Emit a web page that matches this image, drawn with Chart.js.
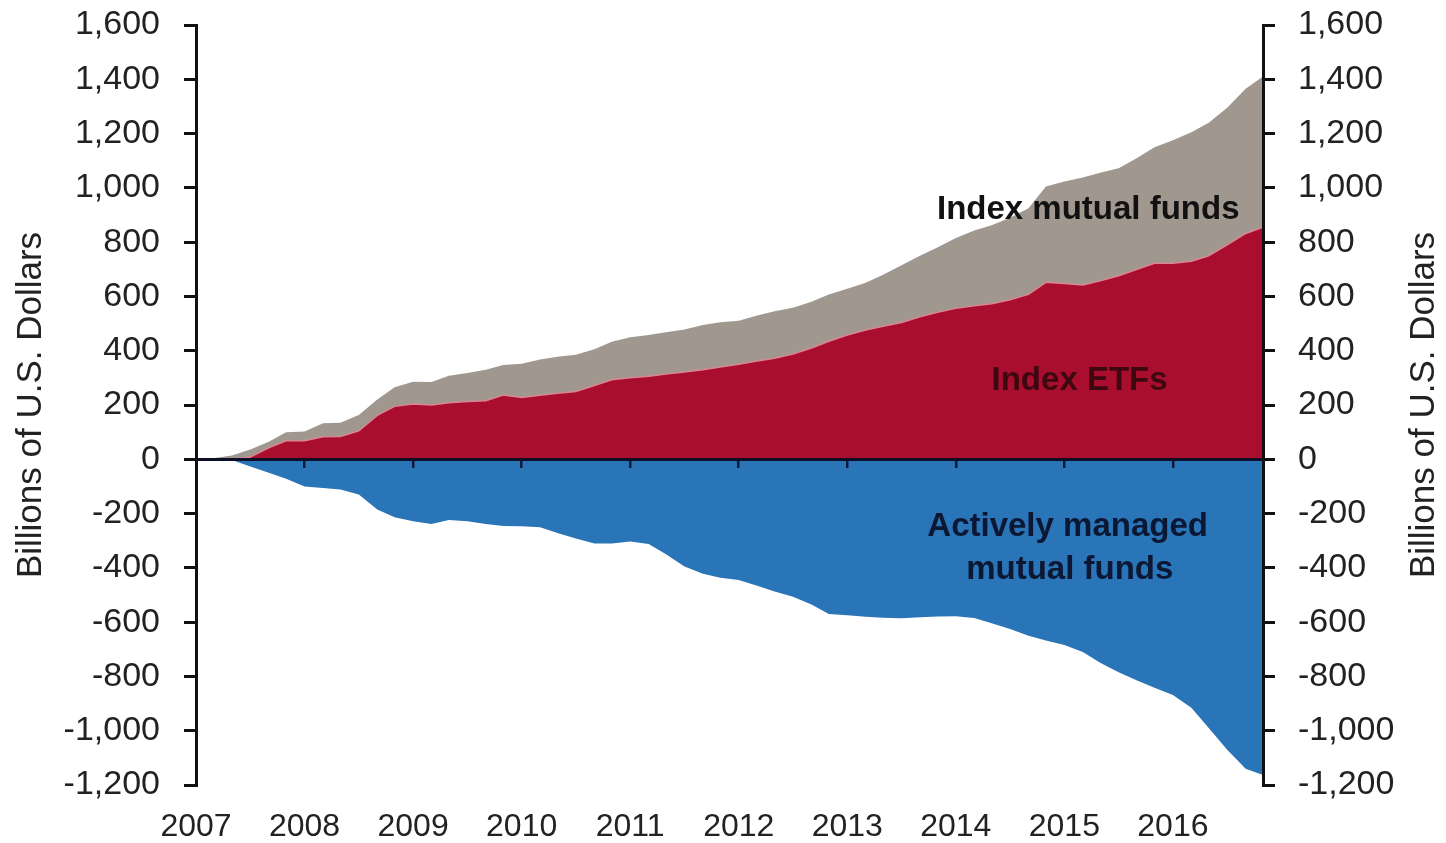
<!DOCTYPE html>
<html>
<head>
<meta charset="utf-8">
<title>Cumulative flows</title>
<script src="https://cdn.jsdelivr.net/npm/chart.js@4.4.1/dist/chart.umd.min.js"></script>
<style>
  html, body { margin: 0; padding: 0; background: #fff; }
  #wrap { width: 1446px; height: 843px; }
</style>
</head>
<body>
<div id="wrap"><canvas id="flows-chart"></canvas></div>
<script>
// Cumulative flows, billions of U.S. dollars (every 2 months)
const dates = [
  2007, 2007.17, 2007.33, 2007.5, 2007.67, 2007.83,
  2008, 2008.17, 2008.33, 2008.5, 2008.67, 2008.83,
  2009, 2009.17, 2009.33, 2009.5, 2009.67, 2009.83,
  2010, 2010.17, 2010.33, 2010.5, 2010.67, 2010.83,
  2011, 2011.17, 2011.33, 2011.5, 2011.67, 2011.83,
  2012, 2012.17, 2012.33, 2012.5, 2012.67, 2012.83,
  2013, 2013.17, 2013.33, 2013.5, 2013.67, 2013.83,
  2014, 2014.17, 2014.33, 2014.5, 2014.67, 2014.83,
  2015, 2015.17, 2015.33, 2015.5, 2015.67, 2015.83,
  2016, 2016.17, 2016.33, 2016.5, 2016.67, 2016.83
];

// red area: index ETFs
const indexEtfs = [
  0, 0, 0, 8, 42, 68,
  68, 83, 84, 105, 162, 195,
  204, 200, 208, 213, 216, 237,
  228, 236, 243, 250, 272, 293,
  300, 306, 314, 322, 330, 340,
  350, 362, 372, 388, 410, 435,
  458, 476, 490, 504, 525, 542,
  556, 566, 573, 588, 608, 652,
  648, 642, 658, 676, 700, 722,
  722, 730, 750, 790, 832, 855
];

// top edge of the grey area: index ETFs + index mutual funds
const etfsPlusIndexMutualFunds = [
  0, 5, 14, 36, 65, 100,
  102, 133, 135, 163, 220, 265,
  286, 285, 308, 318, 330, 347,
  352, 368, 378, 385, 405, 433,
  450, 458, 468, 478, 495, 505,
  510, 530, 545, 558, 580, 607,
  628, 650, 680, 715, 750, 780,
  815, 843, 862, 890, 925, 1005,
  1023, 1038, 1056, 1072, 1110, 1150,
  1175, 1205, 1240, 1295, 1365, 1410
];

// blue area: actively managed mutual funds
const activeMutualFunds = [
  0, 0, -3, -27, -50, -72,
  -100, -106, -111, -130, -185, -214,
  -228, -238, -224, -228, -238, -246,
  -247, -250, -272, -292, -310, -310,
  -303, -312, -350, -395, -422, -436,
  -445, -466, -487, -506, -535, -570,
  -575, -580, -584, -586, -582, -579,
  -578, -585, -604, -625, -650, -668,
  -684, -710, -750, -785, -815, -842,
  -868, -915, -990, -1070, -1140, -1163
];

const years = [2007, 2008, 2009, 2010, 2011, 2012, 2013, 2014, 2015, 2016];
const yearLabels = ['2007', '2008', '2009', '2010', '2011', '2012', '2013', '2014', '2015', '2016'];
const axisTitle = 'Billions of U.S. Dollars';

const FONT = '"Liberation Sans", Arial, Helvetica, sans-serif';
const xMin = 2007;
const xMax = 2016.83;

function toPoints(values) {
    return values.map((v, i) => ({ x: dates[i], y: v }));
}

function yearTicks(scale) {
    scale.ticks = years.map(v => ({ value: v }));
}

// Area names and the right-hand title (drawn so it reads bottom to top like the left one)
const areaLabels = {
    id: 'areaLabels',
    afterDraw(chart) {
        const { ctx, chartArea } = chart;
        const x = chart.scales.x;
        const y = chart.scales.y;
        ctx.save();
        ctx.textAlign = 'center';
        ctx.textBaseline = 'middle';
        ctx.font = 'bold 33px ' + FONT;

        ctx.fillStyle = '#111111';
        ctx.fillText('Index mutual funds', x.getPixelForValue(2015.22), y.getPixelForValue(918));

        ctx.fillStyle = '#3d0810';
        ctx.fillText('Index ETFs', x.getPixelForValue(2015.14), y.getPixelForValue(288));

        ctx.fillStyle = '#0b1733';
        ctx.fillText('Actively managed', x.getPixelForValue(2015.03), y.getPixelForValue(-250));
        ctx.fillText('mutual funds', x.getPixelForValue(2015.05), y.getPixelForValue(-408));

        const r = chart.scales.y2;
        ctx.font = '35px ' + FONT;
        ctx.fillStyle = '#222222';
        ctx.translate(r.right - 22, (chartArea.top + chartArea.bottom) / 2);
        ctx.rotate(-Math.PI / 2);
        ctx.fillText(axisTitle, 0, 0);
        ctx.restore();
    }
};

const yAxisCommon = {
    min: -1200,
    max: 1600,
    border: { display: true, color: '#111111', width: 3, z: 1 },
    grid: { drawOnChartArea: false, drawTicks: true, tickLength: 12, color: '#111111', lineWidth: 3, z: 1 },
    ticks: {
        stepSize: 200,
        autoSkip: false,
        color: '#222222',
        font: { family: FONT, size: 34 },
        callback: (v) => v.toLocaleString('en-US')
    }
};

// fixed axis widths so the plot area lines up with the picture
function fixWidth(w) {
    return (s) => {
        s.width = w;
        s.paddingTop = 0;
        s.paddingBottom = 0;
    };
}

const ctx = document.getElementById('flows-chart').getContext('2d');
const chart = new Chart(ctx, {
    type: 'line',
    data: {
        datasets: [
            {
                label: 'Index ETFs',
                data: toPoints(indexEtfs),
                backgroundColor: '#a90e2f',
                borderColor: '#d98793',
                borderWidth: 1.5,
                fill: 'origin'
            },
            {
                label: 'Index mutual funds',
                data: toPoints(etfsPlusIndexMutualFunds),
                backgroundColor: '#a0978f',
                borderWidth: 0,
                fill: 'origin'
            },
            {
                label: 'Actively managed mutual funds',
                data: toPoints(activeMutualFunds),
                backgroundColor: '#2a74b8',
                borderWidth: 0,
                fill: 'origin'
            }
        ]
    },
    options: {
        responsive: true,
        maintainAspectRatio: false,
        animation: false,
        layout: { padding: { top: 25, left: 0, right: 0, bottom: 0 } },
        elements: { point: { radius: 0 }, line: { tension: 0 } },
        plugins: {
            legend: { display: false },
            tooltip: { enabled: false }
        },
        scales: {
            x: {
                type: 'linear',
                position: 'bottom',
                min: xMin,
                max: xMax,
                afterBuildTicks: yearTicks,
                afterFit: (s) => { s.height = 58; },
                border: { display: false },
                grid: { display: false, drawTicks: false },
                ticks: {
                    autoSkip: false,
                    maxRotation: 0,
                    padding: 23,
                    color: '#222222',
                    font: { family: FONT, size: 32 },
                    callback: (v) => yearLabels[years.indexOf(v)] || ''
                }
            },
            // the zero line with its year tick marks
            zero: {
                type: 'linear',
                axis: 'x',
                position: { y: 0 },
                min: xMin,
                max: xMax,
                afterBuildTicks: yearTicks,
                border: { display: true, color: '#0d0f26', width: 3, z: 1 },
                grid: { drawOnChartArea: false, drawTicks: true, tickLength: 7, color: '#0d1a3d', lineWidth: 2.5, z: 1 },
                ticks: { display: false }
            },
            y: Object.assign({}, yAxisCommon, {
                position: 'left',
                afterFit: fixWidth(196),
                ticks: Object.assign({}, yAxisCommon.ticks, { padding: 24 }),
                title: {
                    display: true,
                    text: axisTitle,
                    color: '#222222',
                    font: { family: FONT, size: 35 },
                    padding: { top: 10, bottom: 0 }
                }
            }),
            y2: Object.assign({}, yAxisCommon, {
                position: 'right',
                afterFit: fixWidth(183),
                ticks: Object.assign({}, yAxisCommon.ticks, { padding: 23 })
            })
        }
    },
    plugins: [areaLabels]
});
</script>
</body>
</html>
